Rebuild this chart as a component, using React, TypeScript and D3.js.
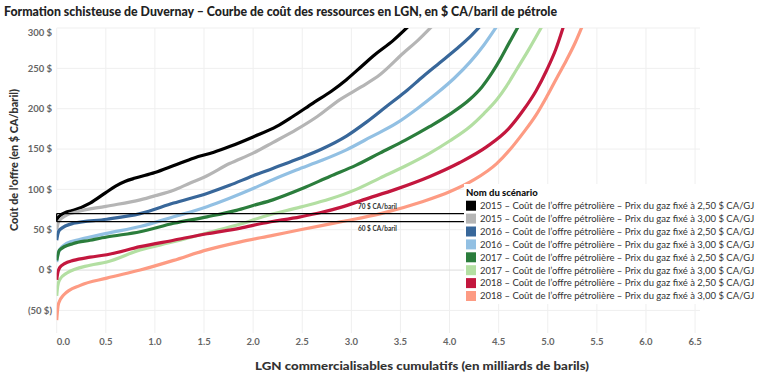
import React from 'react'
import * as d3 from 'd3'

// [cumulative NGL (billion bbl), supply cost ($ CA/bbl)]
const s2015_250: [number, number][] = [[0,60],[0.01,64],[0.03,67],[0.1,72],[0.17,74],[0.34,83],[0.5,96],[0.6,104],[0.7,110],[0.8,114],[1.0,121],[1.2,130],[1.4,139],[1.6,146],[1.76,153],[2.0,165],[2.24,178],[2.4,190],[2.61,207],[2.8,222],[2.95,236],[3.1,252],[3.22,265],[3.43,285],[3.58,302]]
const s2015_300: [number, number][] = [[0,50],[0.01,56],[0.02,60],[0.1,68],[0.2,72],[0.5,79],[0.85,87],[1.0,92],[1.19,99],[1.36,108],[1.5,115],[1.76,132],[2.0,145],[2.2,158],[2.44,174],[2.65,190],[2.88,211],[3.1,227],[3.29,242],[3.53,269],[3.68,285],[3.82,302]]
const s2016_250: [number, number][] = [[0,37],[0.01,44],[0.03,50],[0.17,58],[0.51,63],[0.85,70],[1.19,83],[1.53,95],[1.76,105],[2.0,117],[2.2,126],[2.44,137],[2.7,150],[2.95,166],[3.15,183],[3.36,203],[3.55,221],[3.73,240],[3.9,257],[4.07,274],[4.2,288],[4.31,302]]
const s2016_300: [number, number][] = [[0,10],[0.01,18],[0.02,23],[0.1,33],[0.24,38],[0.51,45.5],[0.85,54],[1.19,66],[1.53,78.5],[1.76,89],[2.0,101],[2.2,112],[2.44,124],[2.7,136],[2.95,149],[3.2,165],[3.46,182],[3.67,200],[3.87,219],[4.05,238],[4.21,258],[4.35,279],[4.48,302]]
const s2017_250: [number, number][] = [[0,12],[0.01,18],[0.03,25],[0.17,33],[0.34,37],[0.51,41],[0.85,47.5],[1.19,58],[1.53,66],[1.83,74],[2.0,80],[2.2,87],[2.5,101],[2.78,116],[3.05,130],[3.29,145],[3.55,161],[3.8,178],[4.0,193],[4.21,212],[4.33,227],[4.43,244],[4.52,262],[4.6,280],[4.7,302]]
const s2017_300: [number, number][] = [[0,-32],[0.01,-20],[0.03,-12],[0.1,-4],[0.34,6],[0.51,10],[0.85,25],[1.19,35],[1.53,46],[1.87,57],[2.1,66],[2.48,78],[2.78,88],[3.05,100],[3.29,114],[3.55,129],[3.8,145],[4.0,160],[4.21,178],[4.35,194],[4.48,211],[4.58,228],[4.68,248],[4.8,272],[4.94,302]]
const s2018_250: [number, number][] = [[0,-12],[0.01,-4],[0.03,3],[0.08,8],[0.17,12],[0.34,16],[0.51,19],[0.85,29],[1.19,37],[1.53,45],[1.87,52],[2.1,58],[2.48,66],[2.68,71],[2.9,78],[3.12,87],[3.45,100],[3.8,116],[4.1,133],[4.38,153],[4.6,175],[4.75,198],[4.88,222],[4.99,248],[5.08,273],[5.16,302]]
const s2018_300: [number, number][] = [[0,-62],[0.01,-48],[0.02,-41],[0.07,-31],[0.24,-19],[0.51,-10],[0.85,0],[1.19,12],[1.53,25],[1.87,35],[2.2,43],[2.48,50],[2.9,60],[3.3,70],[3.73,85],[4.0,97],[4.25,112],[4.48,132],[4.62,150],[4.75,170],[4.88,192],[4.99,215],[5.1,240],[5.19,260],[5.28,282],[5.35,302]]

const seriesNames = [
  '2015 – Coût de l’offre pétrolière – Prix du gaz fixé à 2,50 $ CA/GJ',
  '2015 – Coût de l’offre pétrolière – Prix du gaz fixé à 3,00 $ CA/GJ',
  '2016 – Coût de l’offre pétrolière – Prix du gaz fixé à 2,50 $ CA/GJ',
  '2016 – Coût de l’offre pétrolière – Prix du gaz fixé à 3,00 $ CA/GJ',
  '2017 – Coût de l’offre pétrolière – Prix du gaz fixé à 2,50 $ CA/GJ',
  '2017 – Coût de l’offre pétrolière – Prix du gaz fixé à 3,00 $ CA/GJ',
  '2018 – Coût de l’offre pétrolière – Prix du gaz fixé à 2,50 $ CA/GJ',
  '2018 – Coût de l’offre pétrolière – Prix du gaz fixé à 3,00 $ CA/GJ',
]
const seriesData = [s2015_250, s2015_300, s2016_250, s2016_300, s2017_250, s2017_300, s2018_250, s2018_300]
const colors = ['#000000', '#b5b5b5', '#38679a', '#92c0e3', '#2b7d3c', '#b3dfa2', '#c3173e', '#fd9b83']

const xTicks = [0, 0.5, 1, 1.5, 2, 2.5, 3, 3.5, 4, 4.5, 5, 5.5, 6, 6.5]
const yTicks = [-50, 0, 50, 100, 150, 200, 250, 300]
const refLines = [70, 60]

const W = 760
const H = 376
const font = 'Lato, "Open Sans", sans-serif'

export default function App() {
  const x = d3.scaleLinear().domain([0, 6.55]).range([56.7, 700])
  const y = d3.scaleLinear().domain([-78, 300]).range([333, 28])
  const line = d3
    .line<[number, number]>()
    .x((d) => x(d[0]))
    .y((d) => y(d[1]))
    .curve(d3.curveMonotoneX)

  const [x0, x1] = x.range()
  const [yb, yt] = y.range()
  const fmtY = (v: number) => (v < 0 ? `(${Math.abs(v)} $)` : `${v} $`)

  return (
    <svg width={W} height={H} style={{ position: 'absolute', left: 0, top: 0, background: '#fff' }} fontFamily={font}>
      <defs>
        <clipPath id="plot">
          <rect x={x0} y={yt} width={x1 - x0} height={yb - yt} />
        </clipPath>
      </defs>

      <text x={4} y={16} fontSize={13} fontWeight={900} fill="#222" textLength={553} lengthAdjust="spacingAndGlyphs">
        Formation schisteuse de Duvernay – Courbe de coût des ressources en LGN, en $ CA/baril de pétrole
      </text>

      {/* grid */}
      {xTicks.map((t) => (
        <line key={'gx' + t} x1={x(t)} x2={x(t)} y1={yt} y2={yb} stroke="#efefef" strokeWidth={1} />
      ))}
      {yTicks.map((t) => (
        <line key={'gy' + t} x1={x0} x2={x1} y1={y(t)} y2={y(t)} stroke={t === 0 ? '#dcdcdc' : '#efefef'} strokeWidth={1} />
      ))}

      {/* axis labels */}
      {yTicks.map((t) => (
        <text key={'ty' + t} x={52} y={t === 300 ? yt + 5 : y(t)} dy="0.35em" textAnchor="end" fontSize={9.5} fontWeight={700} fill="#666">
          {fmtY(t)}
        </text>
      ))}
      {xTicks.map((t, i) => (
        <text key={'tx' + t} x={i === 0 ? x0 : x(t)} y={342} dy="0.35em" textAnchor={i === 0 ? 'start' : 'middle'} fontSize={9.5} fontWeight={700} fill="#666">
          {t.toFixed(1)}
        </text>
      ))}
      <text transform="translate(18,160) rotate(-90)" textAnchor="middle" fontSize={11.5} fontWeight={900} fill="#333" textLength={142} lengthAdjust="spacingAndGlyphs">
        Coût de l’offre (en $ CA/baril)
      </text>
      <text x={422} y={370} textAnchor="middle" fontSize={11.5} fontWeight={900} fill="#333" textLength={334} lengthAdjust="spacingAndGlyphs">
        LGN commercialisables cumulatifs (en milliards de barils)
      </text>

      {/* curves */}
      <g clipPath="url(#plot)">
        {seriesData.map((d, i) => (
          <path key={i} d={line(d) ?? ''} fill="none" stroke={colors[i]} strokeWidth={3.2} strokeLinejoin="round" />
        ))}
      </g>

      {/* reference lines */}
      {refLines.map((v) => (
        <line key={'r' + v} x1={x0} x2={x1} y1={y(v)} y2={y(v)} stroke="#000" strokeWidth={1.3} />
      ))}
      <line x1={x0} x2={x0} y1={y(70)} y2={y(60)} stroke="#000" strokeWidth={1.3} />
      <text x={358} y={y(70) - 7} dy="0.35em" fontSize={6.5} fontWeight={700} fill="#333">70 $ CA/baril</text>
      <text x={358} y={y(60) + 7} dy="0.35em" fontSize={6.5} fontWeight={700} fill="#333">60 $ CA/baril</text>

      {/* legend */}
      <rect x={464} y={184} width={296} height={120} fill="#fff" />
      <text x={466} y={193} dy="0.35em" fontSize={9.5} fontWeight={900} fill="#111">Nom du scénario</text>
      {seriesNames.map((n, i) => (
        <g key={n} transform={`translate(466,${205.7 + i * 12.9})`}>
          <rect x={0} y={-5} width={10} height={10} fill={colors[i]} />
          <text x={14} y={0} dy="0.35em" fontSize={9.5} fill="#333">{n}</text>
        </g>
      ))}
    </svg>
  )
}
